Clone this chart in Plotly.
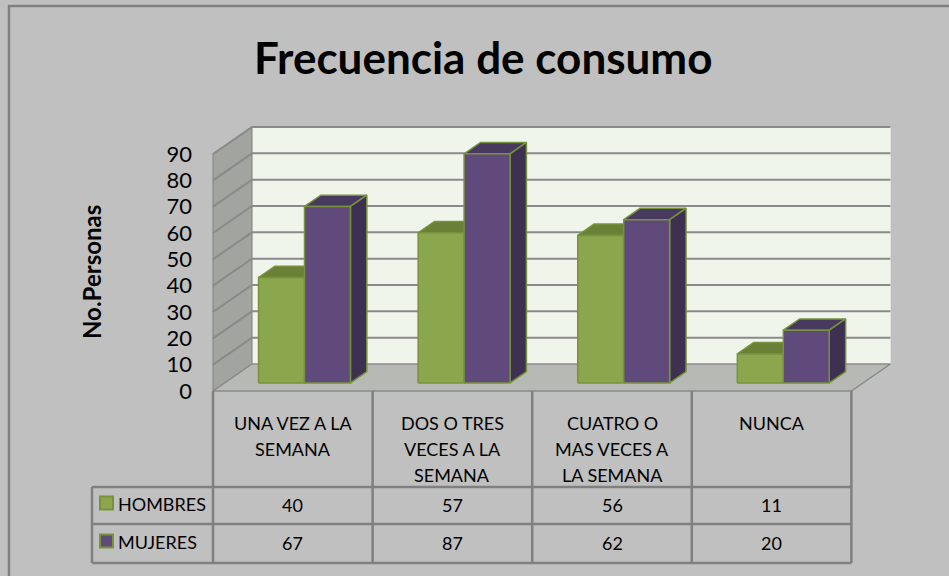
import plotly.graph_objects as go

# ---------------- data ----------------
categories = ["UNA VEZ A LA<br>SEMANA", "DOS O TRES<br>VECES A LA<br>SEMANA",
              "CUATRO O<br>MAS VECES A<br>LA SEMANA", "NUNCA"]
series_names = ["HOMBRES", "MUJERES"]
hombres = [40, 57, 56, 11]
mujeres = [67, 87, 62, 20]
y_ticks = [0, 10, 20, 30, 40, 50, 60, 70, 80, 90]
y_max = 90
title_text = "Frecuencia de consumo"
y_title = "No.Personas"

# ---------------- layout constants ----------------
W, H = 949, 576
CAT_PX = 159.6          # pixels per category
X0_PX = 213.0           # pixel of x = -0.5 on the front plane
BASE_PY = 391.0         # pixel of value 0 on the front plane
UNIT_PX = 2.633         # pixels per value unit
DX = 39.0 / CAT_PX      # depth offset (x units) for full depth
DY = 27.0 / UNIT_PX     # depth offset (value units) for full depth
F0, F1 = 0.30, 0.72     # bar depth range
BAR_W = 0.288           # bar width in category units

x_range = [(0 - X0_PX) / CAT_PX - 0.5, (W - X0_PX) / CAT_PX - 0.5]
y_range = [(BASE_PY - H) / UNIT_PX, BASE_PY / UNIT_PX]

BG = "#C0C0C0"
BACK = "#F0F5EC"
LEFT = "#A2A49F"
FLOOR = "#B7B9B4"
GRID = "#8A8A8A"
EDGE = "#76923C"
COL = {"HOMBRES": {"front": "#8BA64C", "top": "#6A8036", "side": "#5E7330"},
       "MUJERES": {"front": "#604A7B", "top": "#48395E", "side": "#3E3050"}}
FONT = "Lato"


def P(x, v, d):
    return x + DX * d, v + DY * d


def poly(pts, fill, line_color, line_w):
    xs = [p[0] for p in pts] + [pts[0][0]]
    ys = [p[1] for p in pts] + [pts[0][1]]
    return go.Scatter(x=xs, y=ys, mode="lines", fill="toself", fillcolor=fill,
                      line=dict(color=line_color, width=line_w),
                      hoverinfo="skip", showlegend=False)


def px(p):
    return p / W


def py(p):
    return 1 - p / H


fig = go.Figure()
n = len(categories)
xl_edge, xr_edge = -0.5, n - 0.5

# back wall
fig.add_trace(poly([P(xl_edge, 0, 1), P(xr_edge, 0, 1), P(xr_edge, y_max, 1), P(xl_edge, y_max, 1)],
                   BACK, BACK, 0.5))
# left wall
fig.add_trace(poly([P(xl_edge, 0, 0), P(xl_edge, 0, 1), P(xl_edge, y_max, 1), P(xl_edge, y_max, 0)],
                   LEFT, GRID, 1.2))
# floor
fig.add_trace(poly([P(xl_edge, 0, 0), P(xr_edge, 0, 0), P(xr_edge, 0, 1), P(xl_edge, 0, 1)],
                   FLOOR, GRID, 1.5))

# gridlines (back wall + left wall)
gx, gy = [], []
for t in y_ticks[1:]:
    a, b = P(xl_edge, t, 0), P(xl_edge, t, 1)
    c = P(xr_edge, t, 1)
    gx += [a[0], b[0], c[0], None]
    gy += [a[1], b[1], c[1], None]
fig.add_trace(go.Scatter(x=gx, y=gy, mode="lines", line=dict(color=GRID, width=2),
                         hoverinfo="skip", showlegend=False))

# bars
for i in range(n):
    for k, (name, vals) in enumerate(zip(series_names, [hombres, mujeres])):
        v = vals[i]
        xl = i - BAR_W + k * BAR_W
        xr = xl + BAR_W
        c = COL[name]
        # top face
        fig.add_trace(poly([P(xl, v, F0), P(xr, v, F0), P(xr, v, F1), P(xl, v, F1)],
                           c["top"], EDGE, 1.5))
        # side face
        fig.add_trace(poly([P(xr, 0, F0), P(xr, 0, F1), P(xr, v, F1), P(xr, v, F0)],
                           c["side"], EDGE, 1.5))
        # front face
        fig.add_trace(poly([P(xl, 0, F0), P(xr, 0, F0), P(xr, v, F0), P(xl, v, F0)],
                           c["front"], EDGE, 1.5))

shapes = []
annotations = []

# outer border
shapes.append(dict(type="rect", xref="paper", yref="paper", x0=px(9), x1=px(W + 20),
                   y0=py(H + 20), y1=py(6), line=dict(color="#808080", width=2.5),
                   fillcolor="rgba(0,0,0,0)"))

# table lines
TCOL = "#808080"
TW = 2.5
T_TOP, T_ROW1, T_ROW2, T_BOT = 391, 487, 524, 563
T_LEFT = 92
for yline in [T_ROW1, T_ROW2, T_BOT]:
    shapes.append(dict(type="line", xref="paper", yref="paper", x0=px(T_LEFT),
                       x1=px(X0_PX + n * CAT_PX), y0=py(yline), y1=py(yline),
                       line=dict(color=TCOL, width=TW)))
shapes.append(dict(type="line", xref="paper", yref="paper", x0=px(T_LEFT), x1=px(T_LEFT),
                   y0=py(T_ROW1), y1=py(T_BOT), line=dict(color=TCOL, width=TW)))
for j in range(n + 1):
    xb = j - 0.5
    shapes.append(dict(type="line", xref="x", yref="paper", x0=xb, x1=xb,
                       y0=py(T_TOP), y1=py(T_BOT), line=dict(color=TCOL, width=TW)))

# category labels in header row
LINE_H = 26
for i, cat in enumerate(categories):
    for li, line in enumerate(cat.split("<br>")):
        annotations.append(dict(x=i, y=py(423 + li * LINE_H), xref="x", yref="paper",
                                text=line, showarrow=False, xanchor="center", yanchor="middle",
                                font=dict(family=FONT, size=18, color="#000000")))

# values rows + legend keys
row_y = [505, 543]
for k, (name, vals) in enumerate(zip(series_names, [hombres, mujeres])):
    for i, v in enumerate(vals):
        annotations.append(dict(x=i, y=py(row_y[k]), xref="x", yref="paper", text=str(v),
                                showarrow=False, xanchor="center", yanchor="middle",
                                font=dict(family=FONT, size=18, color="#000000")))
    annotations.append(dict(x=px(116), y=py(row_y[k] - 1), xref="paper", yref="paper", text=name,
                            showarrow=False, xanchor="left", yanchor="middle",
                            font=dict(family=FONT, size=18, color="#000000")))
    sy = row_y[k] - 2
    shapes.append(dict(type="rect", xref="paper", yref="paper", x0=px(100), x1=px(113),
                       y0=py(sy + 6.5), y1=py(sy - 6.5), fillcolor=COL[name]["front"],
                       line=dict(color=EDGE, width=2)))

# title
annotations.append(dict(x=px(483), y=py(57), xref="paper", yref="paper", text="<b>" + title_text + "</b>",
                        showarrow=False, xanchor="center", yanchor="middle",
                        font=dict(family=FONT, size=44, color="#000000")))
# y axis title
annotations.append(dict(x=px(91), y=py(272), xref="paper", yref="paper", text="<b>" + y_title + "</b>",
                        showarrow=False, xanchor="center", yanchor="middle", textangle=-90,
                        font=dict(family=FONT, size=24, color="#000000")))

fig.update_layout(
    width=W, height=H, margin=dict(l=0, r=0, t=0, b=0),
    paper_bgcolor=BG, plot_bgcolor=BG, showlegend=False,
    shapes=shapes, annotations=annotations,
    xaxis=dict(range=x_range, domain=[0, 1], visible=False, fixedrange=True),
    yaxis=dict(range=y_range, domain=[0, 1], anchor="free", position=px(192),
               tickmode="array", tickvals=y_ticks, ticktext=[str(t) for t in y_ticks],
               showgrid=False, zeroline=False, showline=False, ticks="",
               tickfont=dict(family=FONT, size=22, color="#000000"), fixedrange=True),
)

fig.write_html("out.html", config={"displayModeBar": False},
               post_script="document.body.style.margin='0';document.body.style.overflow='hidden';")
